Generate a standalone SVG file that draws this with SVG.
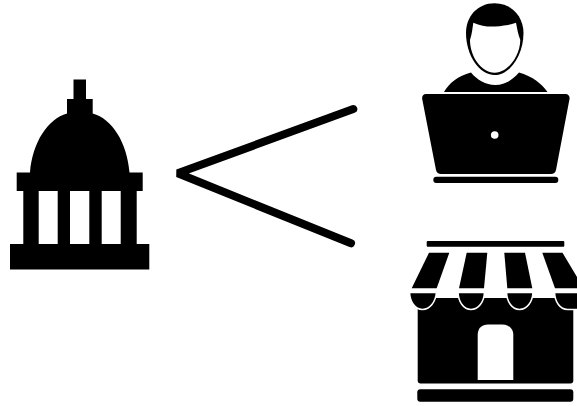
<svg xmlns="http://www.w3.org/2000/svg" width="577" height="406" viewBox="0 0 577 406">
<style>
.k{fill:#000}
.w{fill:#fff}
.ws{fill:#000;stroke:#fff;stroke-width:1.6}
.c{fill:none;stroke:#000;stroke-width:8;stroke-linecap:round;stroke-linejoin:bevel}
</style>
<defs><filter id="soft" x="-2%" y="-2%" width="104%" height="104%"><feGaussianBlur stdDeviation="0.5"/></filter></defs>
<rect width="577" height="406" fill="#fff"/>
<g filter="url(#soft)">
<g id="capitol">
<path class="k" d="M73.500 79.500H86V99H92.700V113.500C112 119 127 142 129.500 172.500H142.700V191H136.700V244H149.300V269.500H10V244H23.300V191H16.700V172.500H30C32.500 142 48 119 67 113.500V99H73.500Z"/>
<rect class="w" x="38.700" y="191" width="19" height="53"/>
<rect class="w" x="70" y="191" width="19.300" height="53"/>
<rect class="w" x="101.700" y="191" width="19" height="53"/>
</g>
<g id="person">
<path class="k" d="M494.700 3.300C512 3.300 523.500 17 523.500 33C523.500 55 510 75 494.700 75C479 75 466 55 466 33C466 17 477 3.300 494.700 3.300Z"/>
<path class="w" d="M473.300 22.700C481 26 488 27 495 26.500C503 26 510 25 516 22.700C517 28 518 34 520.300 40C520 56 508 72.700 494.700 72.700C481 72.700 470 56 470 40C472 34 472.500 28 473.300 22.700Z"/>
<path class="k" d="M444 92C449 83 458 76 471 72.500C477 80 486 85 495 85C504 85 513 80 519 72.500C532 76 542 84 547.500 92Z"/>
<path class="k" d="M426 94H565.500C568.500 94 570 96.500 569.500 99L556 170C555.500 172.500 553.500 174 551 174H441C438.500 174 436.500 172.500 436 170L422.200 99C421.800 96.500 423 94 426 94Z"/>
<circle class="w" cx="494.700" cy="135" r="3.800"/>
<rect class="k" x="433.300" y="176.700" width="125" height="6.300" rx="3"/>
</g>
<g id="shop">
<rect class="k" x="426.700" y="241" width="137.600" height="5.800" rx="1"/>
<rect class="k" x="417.700" y="298" width="155.600" height="85.500" rx="3"/>
<path class="k" d="M429 252.700H449.300L436.700 288.300H411.700Z"/>
<path class="k" d="M466.700 252.700H487.300L484 288.300H459Z"/>
<path class="k" d="M504.300 252.700H525L532.300 288.300H507.300Z"/>
<path class="k" d="M542.300 252.700H562.500L577 277V288.300H555Z"/>
<path class="ws" d="M409.500 292.500H436.500C435.500 302 430 309.500 422.500 309.500C415 309.500 410 302 409.500 292.500Z"/>
<path class="ws" d="M458 292.500H484.500C484 302 478.500 309.500 471 309.500C463.500 309.500 458.500 302 458 292.500Z"/>
<path class="ws" d="M506.500 292.500H533C532.500 302 527 309.500 519.500 309.500C512 309.500 507 302 506.500 292.500Z"/>
<path class="ws" d="M554.500 292.500H581V309.500H567.500C560 309.500 555 302 554.500 292.500Z"/>
<path class="w" d="M477.700 380V335C477.700 328 482 324.500 488 324.500H502C508 324.500 513.300 328 513.300 335V380Z"/>
<rect class="k" x="417.300" y="389.300" width="156" height="12.400" rx="3"/>
</g>
<g id="connectors">
<path class="c" d="M353.300 109L177.700 173.300L351 243.300"/>
</g>
</g>
</svg>
